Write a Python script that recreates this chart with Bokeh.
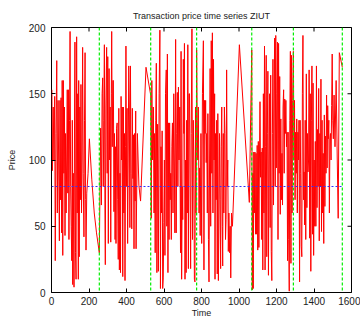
import math

from bokeh.plotting import figure
from bokeh.models import Range1d, Span, FixedTicker
from bokeh.embed import file_html
from bokeh.resources import INLINE

# Transaction times and prices (ZIUT)
TIMES = [
    2, 5, 9, 13, 17, 20, 24, 28, 31, 35, 38, 42, 45, 48, 51, 54, 57, 60, 63, 66,
    69, 72, 75, 78, 81, 84, 87, 90, 93, 96, 99, 102, 105, 108, 111, 113, 116, 120,
    123, 125, 128, 131, 134, 137, 140, 143, 145, 148, 151, 154, 157, 160, 163, 166,
    169, 173, 176, 179, 182, 184, 188, 195, 202, 215, 228, 240, 255,
    262, 266, 270, 273, 276, 279, 282, 285, 287, 290, 294, 297, 300, 303, 307, 310,
    313, 316, 319, 321, 324, 327, 330, 333, 336, 339, 342, 344, 347, 350, 353, 356,
    359, 362, 365, 368, 371, 374, 377, 380, 383, 386, 389, 392, 395, 397, 400, 403,
    406, 409, 412, 415, 418, 421, 424, 428, 431, 434, 437, 440, 443, 446, 449, 451,
    458, 466, 475, 504, 529,
    532, 535, 539, 543, 547, 550, 553, 556, 559, 562, 566, 570, 574, 578, 581, 584,
    587, 590, 593, 596, 599, 602, 605, 608, 612, 615, 618, 621, 624, 627, 630, 633,
    636, 639, 642, 645, 648, 652, 655, 658, 662, 665, 668, 671, 674, 677, 680, 684,
    688, 691, 694, 697, 700, 703, 706, 709, 712, 715, 718, 721, 724, 727, 730, 733,
    736, 739, 742, 745, 749, 752, 756, 759, 762, 765, 768, 771, 774,
    777, 780, 783, 787, 790, 793, 797, 801, 805, 810, 813, 816, 819, 822, 825, 828,
    831, 834, 837, 840, 843, 846, 849, 852, 855, 858, 861, 864, 867, 870, 872, 875,
    878, 881, 884, 887, 890, 893, 896, 899, 902, 905, 908, 911, 913, 916, 919, 922,
    925, 928, 931, 934, 937, 940, 943, 946, 950, 953, 956, 960, 965, 1002, 1055,
    1068, 1071, 1074, 1076, 1079, 1082, 1085, 1088, 1091, 1094, 1097, 1100, 1103,
    1106, 1109, 1112, 1115, 1118, 1121, 1124, 1127, 1130, 1133, 1136, 1139, 1142,
    1145, 1148, 1151, 1154, 1157, 1160, 1163, 1166, 1169, 1172, 1175, 1178, 1181,
    1184, 1187, 1190, 1193, 1196, 1199, 1202, 1205, 1208, 1211, 1214, 1217, 1220,
    1223, 1226, 1229, 1232, 1235, 1238, 1241, 1244, 1247, 1250, 1253, 1256, 1259,
    1262, 1265, 1268, 1271, 1274, 1277, 1280, 1283, 1286, 1290,
    1293, 1296, 1299, 1302, 1305, 1308, 1311, 1314, 1317, 1320, 1323, 1326, 1329,
    1332, 1335, 1338, 1341, 1344, 1347, 1350, 1353, 1356, 1359, 1362, 1365, 1368,
    1371, 1374, 1377, 1380, 1383, 1386, 1389, 1392, 1395, 1398, 1401, 1404, 1407,
    1410, 1413, 1416, 1419, 1422, 1425, 1428, 1431, 1434, 1437, 1440, 1443, 1446,
    1449, 1452, 1455, 1458, 1461, 1464, 1467, 1470, 1473, 1476, 1479, 1482, 1485,
    1488, 1491, 1494, 1497, 1500, 1503, 1507, 1512, 1518, 1524, 1529, 1535, 1551,
]

PRICES = [
    153, 92, 140, 100, 148, 24, 120, 175, 60, 145, 100, 39, 145, 70, 147, 45, 160, 28, 160, 90,
    140, 43, 120, 60, 100, 153, 75, 153, 40, 130, 197, 80, 50, 24, 130, 6, 90, 4,
    140, 189, 30, 10, 193, 60, 150, 10, 160, 27, 140, 70, 157, 60, 100, 185,
    90, 42, 130, 181, 70, 32, 75, 90, 116, 85, 60, 45, 30,
    124, 66, 150, 162, 80, 130, 187, 60, 21, 140, 185, 90, 178, 37, 169, 100,
    140, 38, 150, 197, 110, 160, 160, 61, 120, 40, 110, 37, 124, 128, 70, 25,
    139, 17, 90, 15, 148, 100, 140, 12, 140, 60, 120, 9, 110, 186, 80, 139,
    37, 100, 171, 140, 49, 171, 90, 48, 139, 86, 119, 33, 120, 69, 137, 33,
    120, 81, 69, 170, 149,
    56, 160, 100, 140, 60, 120, 30, 130, 173, 15, 127, 16, 150, 198, 3, 110,
    60, 122, 3, 11, 53, 100, 28, 150, 168, 50, 180, 15, 128, 40, 128, 70,
    90, 40, 110, 128, 60, 150, 100, 45, 191, 45, 120, 151, 80, 155, 100, 140,
    30, 182, 10, 80, 55, 176, 120, 188, 10, 100, 15, 130, 60, 187, 18, 150,
    150, 80, 18, 120, 199, 40, 130, 100, 10, 8, 140, 60, 183,
    130, 100, 140, 60, 94, 43, 120, 37, 150, 190, 17, 145, 120, 145, 98, 120,
    60, 135, 40, 8, 100, 169, 50, 190, 90, 196, 60, 176, 100, 150, 10, 120,
    70, 130, 14, 135, 9, 60, 120, 70, 18, 110, 140, 50, 20, 120, 60, 140,
    120, 40, 55, 168, 80, 100, 31, 60, 30, 50, 11, 60, 50, 187, 68,
    183, 2, 90, 3, 106, 60, 106, 44, 105, 44, 111, 32, 114,
    34, 100, 144, 87, 106, 40, 109, 17, 150, 60, 186, 17, 110,
    179, 27, 120, 167, 13, 100, 150, 49, 164, 31, 9, 120, 176,
    66, 140, 192, 80, 194, 94, 150, 189, 40, 188, 90, 163, 59,
    131, 70, 105, 66, 140, 153, 90, 146, 120, 145, 110, 121, 24,
    121, 40, 1, 130, 182, 22, 179, 60, 145, 182,
    100, 145, 70, 121, 90, 131, 60, 121, 100, 130, 8, 130, 90,
    35, 27, 150, 194, 70, 91, 51, 130, 40, 165, 64, 120, 91,
    100, 168, 41, 150, 16, 130, 171, 44, 158, 28, 100, 50, 114,
    50, 171, 64, 123, 80, 154, 39, 120, 80, 161, 46, 130, 60,
    105, 37, 134, 65, 118, 90, 149, 94, 141, 116, 130, 60, 116,
    120, 100, 141, 180, 130, 116, 149, 110, 160, 100, 56, 181, 170,
]

# Times of the dashed green markers and the reference price level
EVENT_TIMES = [255, 529, 774, 1068, 1290, 1551]
REFERENCE_PRICE = 80

X_TICKS = [0, 200, 400, 600, 800, 1000, 1200, 1400, 1600]
Y_TICKS = [0, 50, 100, 150, 200]
X_MIN, X_MAX = 0, 1600
Y_MIN, Y_MAX = 0, 200

FONT = "Liberation Sans"

p = figure(
    width=360, height=320,
    x_range=Range1d(X_MIN, X_MAX), y_range=Range1d(Y_MIN, Y_MAX),
    output_backend="svg", toolbar_location=None,
    title="Transaction price time series ZIUT",
    min_border_left=51, min_border_right=9,
    min_border_top=27, min_border_bottom=27,
)
p.background_fill_color = "white"
p.border_fill_color = "white"
p.outline_line_color = "black"
p.outline_line_width = 1
p.grid.visible = False

p.title.text_font = FONT
p.title.text_font_size = "9px"
p.title.text_font_style = "normal"
p.title.text_color = "#222222"
p.title.align = "center"
p.title.standoff = 14

for ax, ticks in ((p.xaxis[0], X_TICKS), (p.yaxis[0], Y_TICKS)):
    ax.ticker = FixedTicker(ticks=ticks)
    ax.axis_line_color = None
    ax.major_tick_in = 4
    ax.major_tick_out = 0
    ax.minor_tick_line_color = None
    ax.major_tick_line_color = "black"
    ax.major_label_text_font = FONT
    ax.major_label_text_font_size = "10px"
    ax.major_label_text_color = "#222222"
    ax.axis_label_text_font = FONT
    ax.axis_label_text_font_size = "9px"
    ax.axis_label_text_font_style = "normal"
    ax.axis_label_text_color = "#222222"

p.xaxis[0].axis_label = "Time"
p.xaxis[0].major_label_standoff = 4
p.xaxis[0].axis_label_standoff = 0
p.yaxis[0].axis_label = "Price"
p.yaxis[0].major_label_standoff = 6
p.yaxis[0].axis_label_standoff = 9

# mirrored inward tick marks on the top and right edges (clipped to the frame)
p.scatter(X_TICKS, [Y_MAX] * len(X_TICKS), marker="dash", size=8,
          angle=math.pi / 2, line_color="black", line_width=1)
p.scatter([X_MAX] * len(Y_TICKS), Y_TICKS, marker="dash", size=8,
          line_color="black", line_width=1)

p.line(TIMES, PRICES, line_color="#ff0000", line_width=1.0)

p.line([X_MIN, TIMES[-1]], [REFERENCE_PRICE, REFERENCE_PRICE],
       line_color="#3030ff", line_width=1.2, line_dash="2 2")

for t in EVENT_TIMES:
    p.add_layout(Span(location=t, dimension="height", line_color="#00ee00",
                      line_width=1.2, line_dash="3 2"))

open("out.html", "w").write(file_html(p, INLINE))
